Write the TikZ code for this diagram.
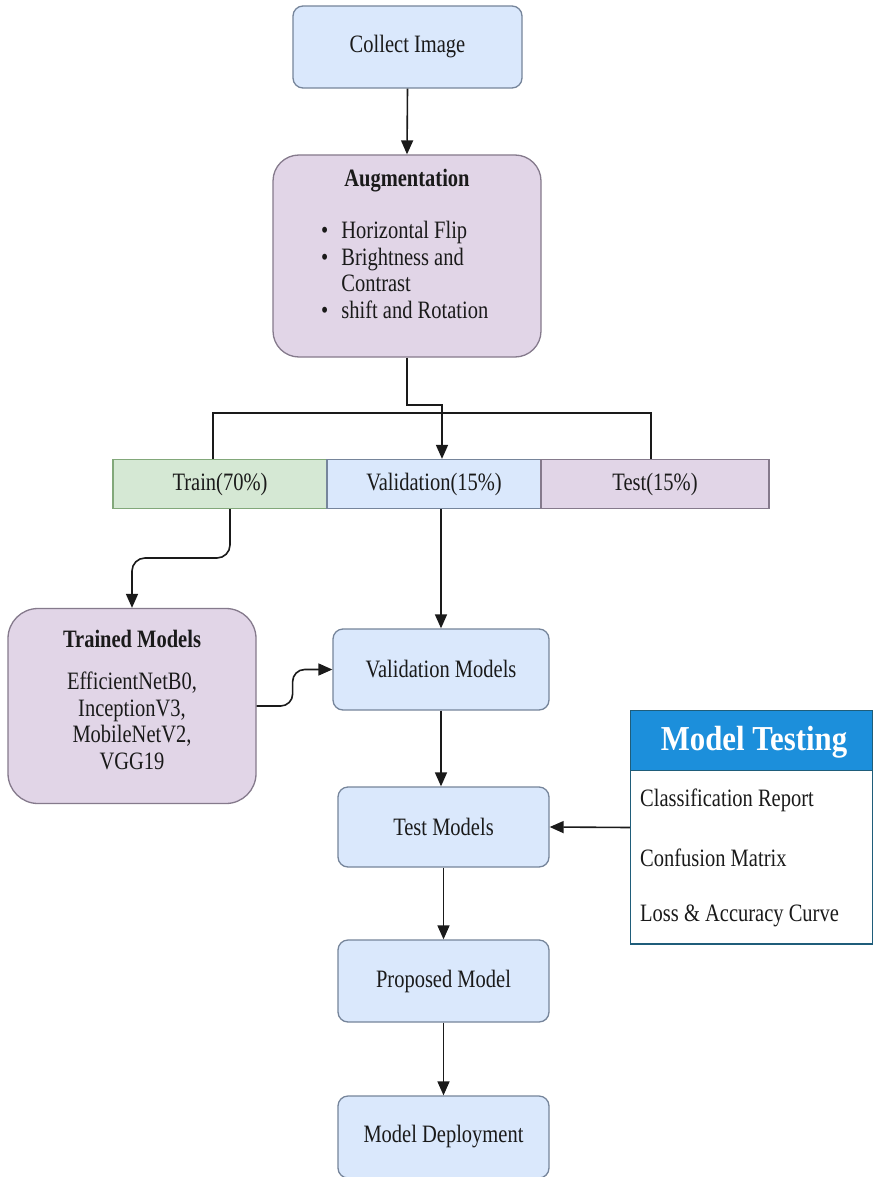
\documentclass[tikz,border=0pt]{standalone}
\usepackage{fontspec}
\setmainfont{Liberation Serif}[FakeStretch=0.82]
\newfontfamily\ttlfont{Liberation Serif}[FakeStretch=0.88]
\usetikzlibrary{arrows.meta}
\definecolor{bfill}{HTML}{DAE8FC}
\definecolor{pfill}{HTML}{E1D5E7}
\definecolor{gfill}{HTML}{D5E8D4}
\definecolor{bdraw}{HTML}{76859B}
\definecolor{pdraw}{HTML}{857A8C}
\definecolor{gdraw}{HTML}{82A87A}
\definecolor{mthead}{HTML}{1C8FDB}
\definecolor{mtdraw}{HTML}{1F5D7A}
\definecolor{ink}{HTML}{1A1A1A}
\tikzset{
  box/.style={draw=bdraw, line width=1.3pt, fill=bfill, rounded corners=10pt, align=center,
    font=\fontsize{25}{27}\selectfont, text=ink, inner sep=0pt},
  pbox/.style={box, draw=pdraw, fill=pfill},
  cell/.style={draw=bdraw, line width=1.3pt, fill=bfill, font=\fontsize{25}{27}\selectfont,
    text=ink, minimum height=49pt, inner sep=0pt},
  arr/.style={line width=1.6pt, draw=ink, -{Triangle[length=14pt,width=12pt]}},
  ln/.style={line width=1.6pt, draw=ink},
  txt/.style={font=\fontsize{25}{26.5}\selectfont, text=ink, inner sep=0pt, align=center},
}
\begin{document}
\begin{tikzpicture}[x=1pt,y=-1pt]
\useasboundingbox[fill=white] (0,0) rectangle (874,1177);

% nodes
\node[box, minimum width=229pt, minimum height=82pt] (ci) at (407.5,47) {Collect Image};
\node[pbox, rounded corners=26pt, minimum width=268pt, minimum height=202pt] (aug) at (407,256) {};
\node[txt, font=\bfseries\fontsize{25}{27}\selectfont] (augt) at (407,181) {Augmentation};
\node[txt, anchor=north west, align=left] (augl) at (321,220) {%
  \begin{tabular}{@{}l@{\hspace{13pt}}l@{}}
  \textbullet & Horizontal Flip\\
  \textbullet & Brightness and\\
              & Contrast\\
  \textbullet & shift and Rotation
  \end{tabular}};

\node[cell, draw=gdraw, fill=gfill, minimum width=214pt] (tr) at (220,484) {Train(70\%)};
\node[cell, minimum width=214pt] (val) at (434,484) {Validation(15\%)};
\node[cell, draw=pdraw, fill=pfill, minimum width=228pt] (te) at (655,484) {Test(15\%)};

\node[pbox, rounded corners=30pt, minimum width=248pt, minimum height=195pt] (tm) at (132,706) {};
\node[txt, font=\bfseries\fontsize{25}{27}\selectfont] (tmt) at (132,639) {Trained Models};
\node[txt] (tml) at (132,721) {EfficientNetB0,\\ InceptionV3,\\ MobileNetV2,\\ VGG19};

\node[box, minimum width=216pt, minimum height=81pt] (vm) at (441,669.5) {Validation Models};
\node[box, minimum width=211pt, minimum height=80pt] (tt) at (443.5,827) {Test Models};
\node[box, minimum width=211pt, minimum height=82pt] (pm) at (443.5,981) {Proposed Model};
\node[box, minimum width=211pt, minimum height=82pt] (md) at (443.5,1137) {Model Deployment};

% Model Testing panel
\node[draw=mtdraw, line width=1.4pt, fill=white, minimum width=242pt, minimum height=233pt, inner sep=0pt] (mt) at (751.5,827.5) {};
\node[fill=mthead, minimum width=241pt, minimum height=59pt, inner sep=0pt, anchor=north] (mth) at ([yshift=-0.7pt]mt.north) {};
\node[txt, text=white, font=\ttlfont\bfseries\fontsize{35}{37}\selectfont] (mtt) at (754,742) {Model Testing};
\draw[mtdraw, line width=1.4pt] (mth.south west) -- (mth.south east);
\node[txt, anchor=west] (mt1) at (640,800) {Classification Report};
\node[txt, anchor=west] (mt2) at (640,858) {Confusion Matrix};
\node[txt, anchor=west] (mt3) at (640,916) {Loss \& Accuracy Curve};

% connectors
\draw[arr] (ci.south) -- (aug.north);
\coordinate (j) at (442,405);
\draw[arr] (aug.south) |- (j) -- (j |- val.north);
\coordinate (bl) at (213,413);
\coordinate (br) at (651,413);
\draw[ln] (bl |- tr.north) -- (bl) -- (br) -- (br |- te.north);
\coordinate (t1) at (230,558);
\draw[arr, rounded corners=13pt] (t1 |- tr.south) -- (t1) -| (tm.north);
\draw[arr] (vm.north |- val.south) -- (vm.north);
\draw[arr, rounded corners=12pt] (tm.east) -- ++(36,0) |- (vm.west);
\draw[arr] (vm.south) -- (vm.south |- tt.north);
\draw[arr] (mt.west) -- (tt.east);
\draw[arr] (tt.south) -- (pm.north);
\draw[arr] (pm.south) -- (md.north);
\end{tikzpicture}
\end{document}
